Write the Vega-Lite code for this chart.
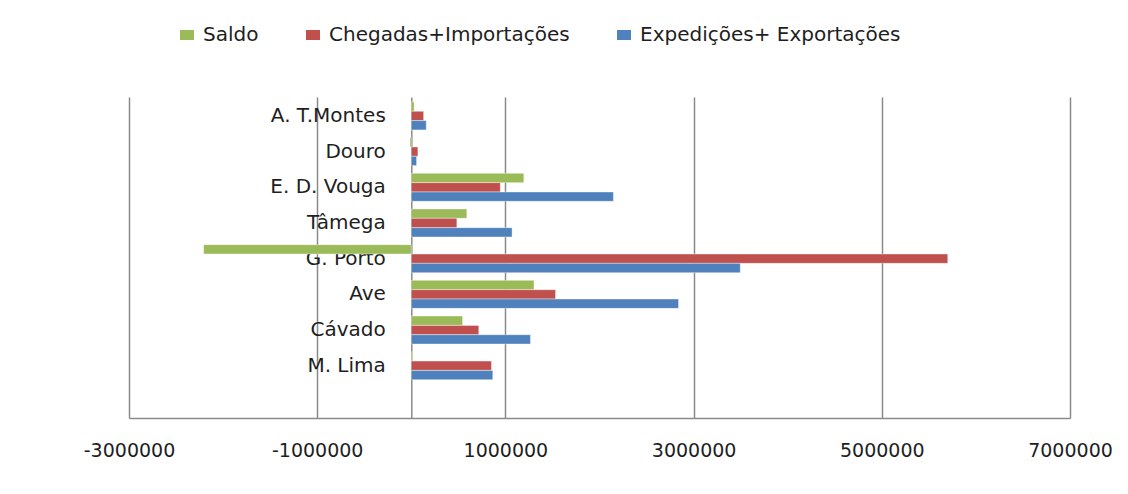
{
  "$schema": "https://vega.github.io/schema/vega-lite/v6.json",
  "width": 941,
  "height": 321,
  "autosize": "none",
  "padding": {"left": 129, "top": 97, "right": 58, "bottom": 76},
  "background": "#ffffff",
  "config": {"view": {"stroke": null}},
  "data": {
    "values": [
      {"region": "A. T.Montes", "series": "Saldo", "value": 30000},
      {"region": "A. T.Montes", "series": "Chegadas+Importações", "value": 131000},
      {"region": "A. T.Montes", "series": "Expedições+ Exportações", "value": 159000},
      {"region": "Douro", "series": "Saldo", "value": -14000},
      {"region": "Douro", "series": "Chegadas+Importações", "value": 70000},
      {"region": "Douro", "series": "Expedições+ Exportações", "value": 56000},
      {"region": "E. D. Vouga", "series": "Saldo", "value": 1196000},
      {"region": "E. D. Vouga", "series": "Chegadas+Importações", "value": 946000},
      {"region": "E. D. Vouga", "series": "Expedições+ Exportações", "value": 2148000},
      {"region": "Tâmega", "series": "Saldo", "value": 590000},
      {"region": "Tâmega", "series": "Chegadas+Importações", "value": 484000},
      {"region": "Tâmega", "series": "Expedições+ Exportações", "value": 1071000},
      {"region": "G. Porto", "series": "Saldo", "value": -2207000},
      {"region": "G. Porto", "series": "Chegadas+Importações", "value": 5701000},
      {"region": "G. Porto", "series": "Expedições+ Exportações", "value": 3496000},
      {"region": "Ave", "series": "Saldo", "value": 1304000},
      {"region": "Ave", "series": "Chegadas+Importações", "value": 1533000},
      {"region": "Ave", "series": "Expedições+ Exportações", "value": 2840000},
      {"region": "Cávado", "series": "Saldo", "value": 545000},
      {"region": "Cávado", "series": "Chegadas+Importações", "value": 717000},
      {"region": "Cávado", "series": "Expedições+ Exportações", "value": 1266000},
      {"region": "M. Lima", "series": "Saldo", "value": 14000},
      {"region": "M. Lima", "series": "Chegadas+Importações", "value": 852000},
      {"region": "M. Lima", "series": "Expedições+ Exportações", "value": 866000}
    ]
  },
  "mark": {"type": "bar", "stroke": "#ffffff", "strokeOpacity": 0.5, "strokeWidth": 0.8},
  "encoding": {
    "y": {
      "field": "region",
      "type": "nominal",
      "sort": ["A. T.Montes", "Douro", "E. D. Vouga", "Tâmega", "G. Porto", "Ave", "Cávado", "M. Lima"],
      "scale": {"paddingInner": 0.215, "paddingOuter": 0.605, "align": 0.114},
      "axis": {
        "title": null,
        "orient": "left",
        "offset": -282.3,
        "ticks": false,
        "domainColor": "#8a8a8a",
        "domainWidth": 1.5,
        "labelPadding": 26,
        "labelFont": "DejaVu Sans",
        "labelFontSize": 20,
        "labelColor": "#1e1e1e",
        "labelBaseline": "middle",
        "grid": false
      }
    },
    "yOffset": {
      "field": "series",
      "type": "nominal",
      "sort": ["Saldo", "Chegadas+Importações", "Expedições+ Exportações"],
      "scale": {"paddingInner": 0, "paddingOuter": 0}
    },
    "x": {
      "field": "value",
      "type": "quantitative",
      "scale": {"domain": [-3000000, 7000000], "nice": false, "zero": false},
      "axis": {
        "title": null,
        "values": [-3000000, -1000000, 1000000, 3000000, 5000000, 7000000],
        "format": "d",
        "labelExpr": "replace(datum.label, '\u2212', '-')",
        "grid": true,
        "gridColor": "#8a8a8a",
        "gridWidth": 1.5,
        "domainColor": "#8a8a8a",
        "domainWidth": 1.5,
        "ticks": false,
        "labelPadding": 23,
        "labelFont": "DejaVu Sans",
        "labelFontSize": 19,
        "labelColor": "#1e1e1e",
        "labelFlush": false
      }
    },
    "color": {
      "field": "series",
      "type": "nominal",
      "sort": ["Saldo", "Chegadas+Importações", "Expedições+ Exportações"],
      "scale": {
        "domain": ["Saldo", "Chegadas+Importações", "Expedições+ Exportações"],
        "range": ["#9BBB59", "#C0504D", "#4F81BD"]
      },
      "legend": {
        "title": null,
        "orient": "none",
        "direction": "horizontal",
        "legendX": 48,
        "legendY": -72,
        "symbolType": "M-0.7,-0.5H0.7V0.5H-0.7Z",
        "symbolSize": 400,
        "symbolStrokeWidth": 0,
        "labelOffset": 6,
        "columnPadding": 44,
        "labelFont": "DejaVu Sans",
        "labelFontSize": 20,
        "labelColor": "#1e1e1e",
        "labelLimit": 400
      }
    }
  }
}
